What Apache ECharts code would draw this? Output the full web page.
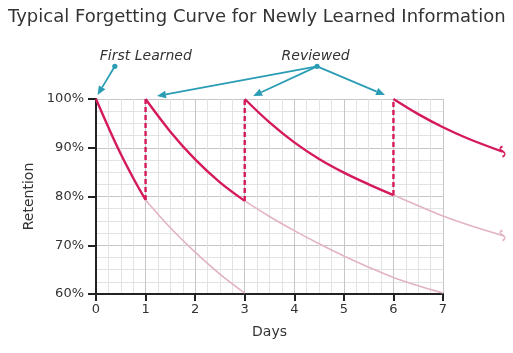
<!DOCTYPE html>
<html>
<head>
<meta charset="utf-8">
<script src="https://cdn.jsdelivr.net/npm/echarts@6/dist/echarts.min.js"></script>
<style>
  html, body { margin: 0; padding: 0; background: #fff; }
  #chart { width: 513px; height: 353px; }
</style>
</head>
<body>
<div id="chart"></div>
<script>
// ---- data ----
const xTickDays = [0, 1, 2, 3, 4, 5, 6, 7];
const yTickPercents = [60, 70, 80, 90, 100];
const curveMaxDay = 8.25; // curves run past the gridded area to about day 8.2

// solid (bright) forgetting segments
const learnDays = [0, 0.25, 0.5, 0.75, 1];
const learnRet  = [100, 94.2, 88.7, 83.8, 79.3];
const review1Days = [1, 1.5, 2, 2.5, 3];
const review1Ret  = [100, 93.3, 87.6, 82.9, 79.1];
const review2Days = [3, 3.5, 4, 4.5, 5, 5.5, 6];
const review2Ret  = [100, 95.2, 91.1, 87.7, 84.9, 82.5, 80.3];
const review3Days = [6, 6.5, 7, 7.5, 8.2];
const review3Ret  = [100, 96.9, 94.2, 91.9, 89.2];

// faded continuations (what happens without review)
const fade1Days = [1, 1.5, 2, 2.5, 3];
const fade1Ret  = [79.3, 73.6, 68.6, 64.1, 60.2];
const fade2Days = [3, 3.5, 4, 4.5, 5, 5.5, 6, 6.5, 7];
const fade2Ret  = [79.1, 75.9, 73.0, 70.3, 67.8, 65.5, 63.4, 61.7, 60.2];
const fade3Days = [6, 6.5, 7, 7.5, 8.2];
const fade3Ret  = [80.3, 78.1, 76.0, 74.2, 72.0];

// review jumps (dashed)
const reviewDays = [1, 3, 6];
const reviewFrom = [79.3, 79.1, 80.3];
const reviewTo   = [100, 100, 100];

// annotation arrows (data coordinates)
const firstLearnedFrom = [0.38, 106.7];
const firstLearnedTo   = [0.03, 100.8];
const reviewedFrom = [4.46, 106.7];
const reviewedTo   = [[1.23, 100.6], [3.17, 100.6], [5.83, 100.8]];

// ---- styles ----
const DARK = '#d5195c';
const FADE = '#e2b3c3';
const TEAL = '#2a9db5';
const TXT = '#333333';
const FONT = 'DejaVu Sans';

const PLOT_LEFT = 96, PLOT_RIGHT_PX = 443, PLOT_TOP = 99, PLOT_BOTTOM = 59;
const dayPx = (PLOT_RIGHT_PX - PLOT_LEFT) / xTickDays[xTickDays.length - 1];
const curveRight = 513 - PLOT_LEFT - dayPx * curveMaxDay;

function pairs(xs, ys) { return xs.map((x, i) => [x, ys[i]]); }
const endMark = 'path://M2,0 C-1,3 5,5 2,9';
function withEnd(xs, ys, color) {
  const d = pairs(xs, ys);
  const last = d.length - 1;
  d[last] = { value: d[last], symbol: endMark, symbolSize: [5, 10],
              itemStyle: { color: 'none', borderColor: color, borderWidth: 1.5 } };
  return d;
}

function curve(name, xs, ys, color, width, z, end) {
  return {
    name, type: 'line', smooth: 0.35, clip: false, z,
    xAxisIndex: 1, yAxisIndex: 1,
    data: end ? withEnd(xs, ys, color) : pairs(xs, ys),
    symbol: 'none', showSymbol: !!end,
    lineStyle: { color, width },
    itemStyle: { color },
    emphasis: { disabled: true }, silent: true, animation: false
  };
}

const series = [
  curve('fade1', fade1Days, fade1Ret, FADE, 1.6, 2, false),
  curve('fade2', fade2Days, fade2Ret, FADE, 1.6, 2, false),
  curve('fade3', fade3Days, fade3Ret, FADE, 1.6, 2, true),
  curve('learn', learnDays, learnRet, DARK, 2.4, 3, false),
  curve('review1', review1Days, review1Ret, DARK, 2.4, 3, false),
  curve('review2', review2Days, review2Ret, DARK, 2.4, 3, false),
  curve('review3', review3Days, review3Ret, DARK, 2.4, 3, true)
];

reviewDays.forEach((d, i) => {
  series.push({
    name: 'jump' + i, type: 'line', clip: false, z: 3,
    xAxisIndex: 1, yAxisIndex: 1,
    data: [[d, reviewFrom[i]], [d, reviewTo[i]]],
    symbol: 'none',
    lineStyle: { color: DARK, width: 2.4, type: [5, 3] },
    silent: true, animation: false
  });
});

const axisText = { fontFamily: FONT, fontSize: 13, color: TXT };

const chart = echarts.init(document.getElementById('chart'), null, { renderer: 'canvas' });
chart.setOption({
  animation: false,
  backgroundColor: '#ffffff',
  title: {
    text: 'Typical Forgetting Curve for Newly Learned Information',
    left: 3, top: 3,
    textStyle: { fontFamily: FONT, fontSize: 18, fontWeight: 'normal', color: TXT }
  },
  grid: [
    { left: PLOT_LEFT, right: 513 - PLOT_RIGHT_PX, top: PLOT_TOP, bottom: PLOT_BOTTOM },
    { left: PLOT_LEFT, right: curveRight, top: PLOT_TOP, bottom: PLOT_BOTTOM }
  ],
  xAxis: [{
    gridIndex: 0,
    type: 'value', min: xTickDays[0], max: xTickDays[xTickDays.length - 1], interval: 1,
    name: 'Days', nameLocation: 'middle', nameGap: 31,
    nameTextStyle: { fontFamily: FONT, fontSize: 14, color: TXT },
    axisLine: { show: true, onZero: false, lineStyle: { color: '#222', width: 2 } },
    axisTick: { show: true, length: 7, lineStyle: { color: '#222', width: 2 } },
    axisLabel: Object.assign({ margin: 9,
                 formatter: v => xTickDays.includes(v) ? String(v) : '' }, axisText),
    splitLine: { show: true, lineStyle: { color: '#c6c6c6', width: 1 } },
    minorTick: { show: false, splitNumber: 4 },
    minorSplitLine: { show: true, lineStyle: { color: '#e3e3e3', width: 1 } }
  }, {
    gridIndex: 1, type: 'value', min: 0, max: curveMaxDay, show: false,
    splitLine: { show: false }
  }],
  yAxis: [{
    gridIndex: 0,
    type: 'value', min: yTickPercents[0], max: yTickPercents[yTickPercents.length - 1], interval: 10,
    name: 'Retention', nameLocation: 'middle', nameGap: 55, nameRotate: 90,
    nameTextStyle: { fontFamily: FONT, fontSize: 14, color: TXT },
    axisLine: { show: true, onZero: false, lineStyle: { color: '#222', width: 2 } },
    axisTick: { show: true, length: 8, lineStyle: { color: '#222', width: 2 } },
    axisLabel: Object.assign({ margin: 12,
                 formatter: v => yTickPercents.includes(v) ? v + '%' : '' }, axisText),
    splitLine: { show: true, lineStyle: { color: '#c6c6c6', width: 1 } },
    minorTick: { show: false, splitNumber: 4 },
    minorSplitLine: { show: true, lineStyle: { color: '#e3e3e3', width: 1 } }
  }, {
    gridIndex: 1, type: 'value',
    min: yTickPercents[0], max: yTickPercents[yTickPercents.length - 1],
    show: false, splitLine: { show: false }
  }],
  series: series
});

// ---- annotations: arrows and italic labels, positioned via the data scale ----
const toPx = c => chart.convertToPixel({ xAxisIndex: 1, yAxisIndex: 1 }, c);
function arrow(from, to) {
  const a = toPx(from), b = toPx(to);
  const dx = b[0] - a[0], dy = b[1] - a[1];
  const len = Math.hypot(dx, dy), ux = dx / len, uy = dy / len;
  const headL = 9, headW = 3.8;
  const base = [b[0] - ux * headL, b[1] - uy * headL];
  return [
    { type: 'line', silent: true, z: 10,
      shape: { x1: a[0], y1: a[1], x2: base[0], y2: base[1] },
      style: { stroke: TEAL, lineWidth: 1.8 } },
    { type: 'polygon', silent: true, z: 10,
      shape: { points: [b, [base[0] - uy * headW, base[1] + ux * headW],
                           [base[0] + uy * headW, base[1] - ux * headW]] },
      style: { fill: TEAL } }
  ];
}
const graphics = [];
graphics.push(...arrow(firstLearnedFrom, firstLearnedTo));
reviewedTo.forEach(t => graphics.push(...arrow(reviewedFrom, t)));
[firstLearnedFrom, reviewedFrom].forEach(c => {
  const p = toPx(c);
  graphics.push({ type: 'circle', silent: true, z: 11,
    shape: { cx: p[0], cy: p[1], r: 2.6 }, style: { fill: TEAL } });
});
const p1 = toPx(firstLearnedFrom), p2 = toPx(reviewedFrom);
graphics.push(
  { type: 'text', x: p1[0] + 31, y: p1[1] - 3, silent: true, z: 12,
    style: { text: 'First Learned', fontFamily: FONT, fontSize: 14, fontStyle: 'italic',
             fill: TXT, align: 'center', verticalAlign: 'bottom' } },
  { type: 'text', x: p2[0] - 1.5, y: p2[1] - 3, silent: true, z: 12,
    style: { text: 'Reviewed', fontFamily: FONT, fontSize: 14, fontStyle: 'italic',
             fill: TXT, align: 'center', verticalAlign: 'bottom' } }
);
chart.setOption({ graphic: graphics });
</script>
</body>
</html>
